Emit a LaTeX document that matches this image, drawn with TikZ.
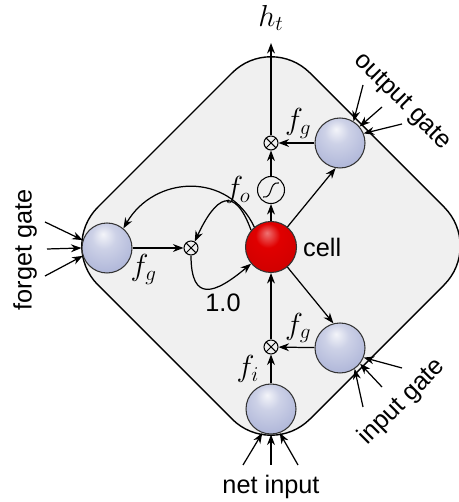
\documentclass[tikz,border=0pt]{standalone}
\usepackage{fontspec}
\setmainfont{Liberation Sans}
\usepackage{xcolor}
\usetikzlibrary{positioning, arrows.meta}
\definecolor{cellgray}{HTML}{F0F0F0}
\definecolor{gateblue}{HTML}{B2B9DA}
\definecolor{cellred}{HTML}{E00000}
\pgfdeclareradialshading{gateball}{\pgfpoint{-4bp}{14bp}}{%
    color(0bp)=(white!85!gateblue); color(12bp)=(gateblue!65!white);
    color(30bp)=(gateblue); color(45bp)=(gateblue!80!black); color(60bp)=(gateblue!55!black)}
\pgfdeclareradialshading{redball}{\pgfpoint{-4bp}{14bp}}{%
    color(0bp)=(cellred!55!white); color(12bp)=(cellred);
    color(35bp)=(cellred!92!black); color(48bp)=(cellred!70!black); color(60bp)=(cellred!45!black)}

\begin{document}
\begin{tikzpicture}[x=0.02cm, y=0.02cm,
    every node/.style={font=\fontsize{14.4}{17}\selectfont},
    flabel/.style={font=\fontsize{17.28}{20}\selectfont},
    arr/.style={-{Stealth[length=6pt, width=4.5pt]}, line width=0.7pt},
    gate/.style={circle, draw=black!80, line width=0.6pt, shade, shading=gateball,
                 minimum size=1cm, inner sep=0pt},
    cellball/.style={gate, shading=redball, minimum size=1.02cm},
    mult/.style={circle, draw, line width=0.6pt, minimum size=0.28cm, inner sep=0pt,
                 path picture={\draw (path picture bounding box.south west) -- (path picture bounding box.north east)
                                     (path picture bounding box.north west) -- (path picture bounding box.south east);}},
    squash/.style={circle, draw, line width=0.6pt, minimum size=0.54cm, inner sep=0pt,
                   path picture={\draw[line width=0.6pt]
                       ([shift={(-4.5pt,-4pt)}]path picture bounding box.center)
                       .. controls ([shift={(1.5pt,-5pt)}]path picture bounding box.center)
                       and ([shift={(-1.5pt,5pt)}]path picture bounding box.center)
                       .. ([shift={(4.5pt,4pt)}]path picture bounding box.center);}}]
    \useasboundingbox (0,0) rectangle (458,502);
    \draw[fill=cellgray, line width=0.8pt, rounded corners=1.1cm]
        (271,468) -- (483,256) -- (271,44) -- (59,256) -- cycle;

    \node[cellball] (cell) at (271,255) {};
    \node[gate] (forgetgate) at (107,254) {};
    \node[gate] (outgate) at (340,359) {};
    \node[gate] (ingate) at (340,154) {};
    \node[gate] (netin) at (271,93) {};
    \node[mult] (fmult) at (191,254) {};
    \node[mult] (omult) at (271,359) {};
    \node[mult] (imult) at (271,155) {};
    \node[squash] (squash) at (271,312) {};
    \coordinate (htend) at (271,459);

    \node[flabel] (htlabel) at (271,484) {$h_t$};
    \node[right=0pt of cell] (celllabel) {cell};
    \node[flabel, left=0pt of squash] (folabel) {$f_o$};
    \node (onelabel) at (223,199) {1.0};
    \node[rotate=90] (forgetlabel) at (25,252) {forget gate};
    \node[rotate=-45] (outlabel) at (402,400) {output gate};
    \node[rotate=45] (inlabel) at (402,100) {input gate};
    \node (netlabel) at (271,15) {net input};

    \draw[arr] (netin) -- node[flabel, left=3pt] (filabel) {$f_i$} (imult);
    \draw[arr] (imult) -- (cell);
    \draw[arr] (ingate) -- node[flabel, above=-1pt, pos=0.45] (fginlabel) {$f_g$} (imult);
    \draw[arr] (cell) -- (ingate.105);
    \draw[arr] (cell) -- (outgate.-100);
    \draw[arr] (cell) -- (squash);
    \draw[arr] (squash) -- (omult);
    \draw[arr] (outgate) -- node[flabel, above=-1pt, pos=0.45] (fgoutlabel) {$f_g$} (omult);
    \draw[arr] (omult) -- (htend);
    \draw[arr] (forgetgate) -- node[flabel, below=0pt, pos=0.22] (fgforgetlabel) {$f_g$} (fmult);
    \draw[arr] (cell.130) to[out=115, in=60, looseness=1.2] (forgetgate.50);
    \draw[arr] (cell.140) to[out=110, in=65, looseness=2.2] (fmult.60);
    \draw[arr] (fmult.south) to[out=-90, in=-140, looseness=2] (cell.220);

    \foreach \x/\y/\a in {45/280/162, 47/253/180, 45/226/198} {
        \coordinate (fin\a) at (\x,\y);
        \draw[arr] (fin\a) -- (forgetgate.\a);
    }
    \foreach \x/\y/\a in {363/417/58, 382/395/40, 402/378/22} {
        \coordinate (oin\a) at (\x,\y);
        \draw[arr] (oin\a) -- (outgate.\a);
    }
    \foreach \x/\y/\a in {402/134/-22, 382/115/-38, 363/95/-55} {
        \coordinate (iin\a) at (\x,\y);
        \draw[arr] (iin\a) -- (ingate.\a);
    }
    \foreach \x/\y/\a in {243/37/-110, 271/37/-90, 298/37/-70} {
        \coordinate (nin\a) at (\x,\y);
        \draw[arr] (nin\a) -- (netin.\a);
    }
\end{tikzpicture}
\end{document}
